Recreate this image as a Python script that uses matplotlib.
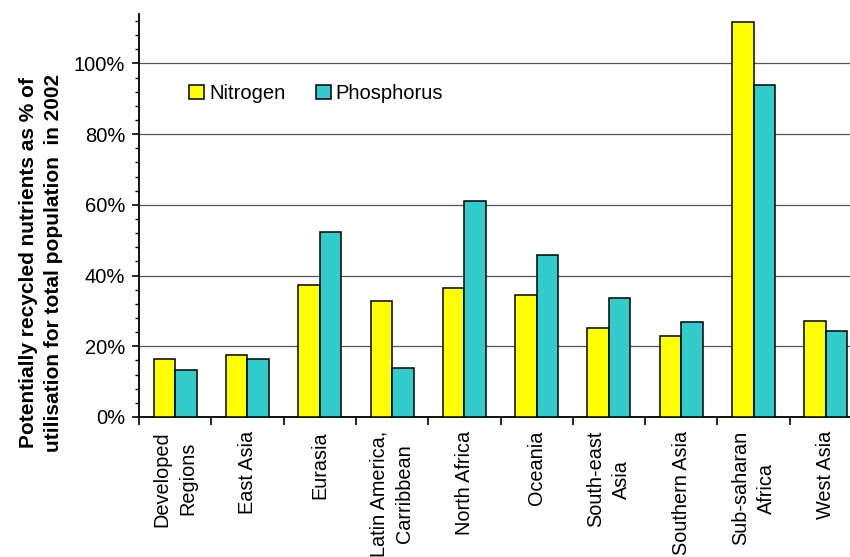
import matplotlib
matplotlib.use("Agg")
import matplotlib.pyplot as plt
from matplotlib.ticker import MultipleLocator, FuncFormatter
import numpy as np

plt.rcParams['font.family'] = ['Liberation Sans', 'DejaVu Sans']

regions = ["Developed\nRegions", "East Asia", "Eurasia", "Latin America,\nCarribbean",
           "North Africa", "Oceania", "South-east\nAsia", "Southern Asia",
           "Sub-saharan\nAfrica", "West Asia"]
nitrogen = [0.163, 0.174, 0.373, 0.329, 0.365, 0.345, 0.252, 0.228, 1.118, 0.272]
phosphorus = [0.134, 0.163, 0.523, 0.138, 0.612, 0.458, 0.338, 0.268, 0.939, 0.244]

W, H = 850, 557
fig = plt.figure(figsize=(W / 100, H / 100), dpi=100)
ax = fig.add_axes([139 / W, (H - 417) / H, 723 / W, (417 - 14) / H])

x = np.arange(len(regions))
bw = 0.297
ax.bar(x - bw / 2, nitrogen, bw, color="#FFFF00", edgecolor="black", linewidth=1.1,
       label="Nitrogen", zorder=3)
ax.bar(x + bw / 2, phosphorus, bw, color="#33CCCC", edgecolor="black", linewidth=1.1,
       label="Phosphorus", zorder=3)

ax.set_xlim(-0.5, len(regions) - 0.5)
ax.set_ylim(0, 1.14)

ax.yaxis.set_major_locator(MultipleLocator(0.2))
ax.yaxis.set_minor_locator(MultipleLocator(0.04))
ax.yaxis.set_major_formatter(FuncFormatter(lambda v, p: f"{v * 100:.0f}%"))
ax.grid(axis="y", which="major", color="#555555", linewidth=0.9, zorder=0)

# category boundaries carry the ticks, labels sit at the centres
ax.set_xticks(np.arange(-0.5, len(regions), 1.0))
ax.set_xticklabels([])
ax.set_xticks(x, minor=True)
ax.set_xticklabels(regions, minor=True, rotation=90, ha="center", va="top",
                   multialignment="center", fontsize=14.3, linespacing=1.45)
ax.tick_params(axis="x", which="major", direction="out", length=6, width=1.2)
ax.tick_params(axis="x", which="minor", length=0, pad=10)
ax.tick_params(axis="y", which="major", direction="out", length=5, width=1.2,
               labelsize=14.5, pad=5)
ax.tick_params(axis="y", which="minor", direction="out", length=3, width=1.0)

for s in ("top", "right"):
    ax.spines[s].set_visible(False)
for s in ("left", "bottom"):
    ax.spines[s].set_linewidth(1.3)

ax.legend(loc="upper left", bbox_to_anchor=(189 / W, 1 - 84 / H),
          bbox_transform=fig.transFigure, ncol=2, frameon=False, fontsize=14.5,
          handlelength=0.75, handleheight=0.75, handletextpad=0.25,
          columnspacing=1.5, borderpad=0, borderaxespad=0)

fig.text(41 / W, 1 - 263 / H,
         "Potentially recycled nutrients as % of\nutilisation for total population  in 2002",
         rotation=90, ha="center", va="center", multialignment="center",
         fontsize=15, fontweight="bold", linespacing=1.45)

fig.savefig("out.png", dpi=100)
